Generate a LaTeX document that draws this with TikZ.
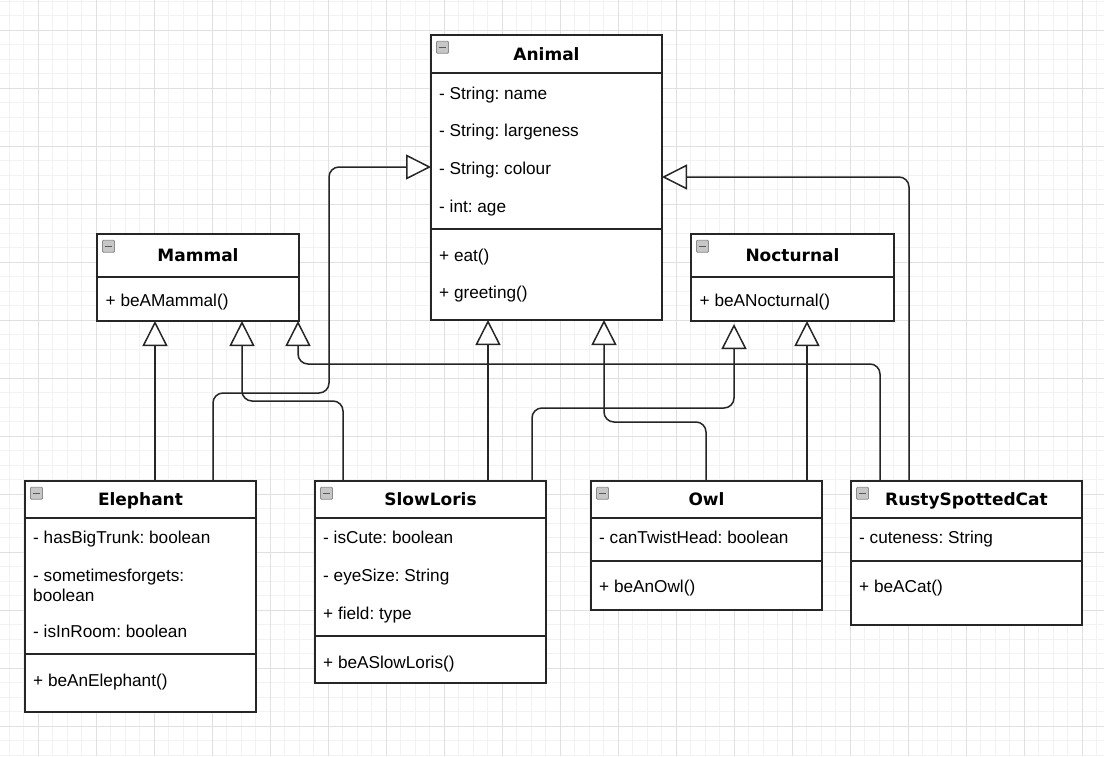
\documentclass[tikz,border=0pt]{standalone}
\usepackage{fontspec}
\setmainfont{Liberation Sans}
\newfontfamily\titlefont{DejaVu Sans}
\usetikzlibrary{arrows.meta,calc}
\frenchspacing

\tikzset{
  gridminor/.style={draw=black!5, line width=1pt},
  gridmajor/.style={draw=black!12, line width=1pt},
  classbox/.style={draw=black!85, fill=white, line width=1.5pt, anchor=north west,
    inner sep=0pt, outer sep=0pt, rectangle},
  boxline/.style={draw=black!85, line width=1.5pt},
  classtitle/.style={anchor=base, inner sep=0pt,
    font=\titlefont\bfseries\fontsize{17}{20}\selectfont},
  member/.style={anchor=base west, inner sep=0pt, font=\fontsize{17.2}{20}\selectfont},
  iconframe/.style={draw=black!45, fill=black!22, line width=0.8pt, rounded corners=1pt},
  iconbar/.style={draw=black!65, line width=1.6pt},
  inherit/.style={draw=black!85, line width=1.5pt, rounded corners=10pt,
    -{Triangle[length=25pt,width=25pt,fill=white]}},
}

% collapse box in the top left corner of a class
\newcommand{\umlicon}[1]{%
  \path (#1.north west) ++(5.5,6.3) coordinate (#1-icon);
  \draw[iconframe] (#1-icon) rectangle ++(12,12);
  \draw[iconbar] ($(#1-icon)+(2.2,6)$) -- ++(7.6,0);
}
% horizontal compartment divider of a class at height #2
\newcommand{\umlsep}[2]{%
  \draw[boxline] (#1.west |- 0,#2) -- (#1.east |- 0,#2);
}

\begin{document}
\begin{tikzpicture}[x=1pt,y=-1pt]
\useasboundingbox (0,0) rectangle (1104,756);
\fill[white] (0,0) rectangle (1104,756);

% background grid
\foreach \i in {0,...,75} \draw[gridminor] ({9.3+14.5*\i},0) -- ++(0,756);
\foreach \j in {0,...,52} \draw[gridminor] (0,{1+14.5*\j}) -- ++(1104,0);
\foreach \i in {0,...,18} \draw[gridmajor] ({38.3+58*\i},0) -- ++(0,756);
\foreach \j in {0,...,12} \draw[gridmajor] (0,{30+58*\j}) -- ++(1104,0);

% ---------- classes ----------
% Animal
\node[classbox, minimum width=231pt, minimum height=285pt] (animal) at (431,35) {};
\umlsep{animal}{73}
\umlsep{animal}{229}
\umlicon{animal}
\node[classtitle] (animal-t) at (546.5,60.2) {Animal};
\node[member] (animal-a1) at (439,99) {- String: name};
\node[member] (animal-a2) at (439,136.7) {- String: largeness};
\node[member] (animal-a3) at (439,174.4) {- String: colour};
\node[member] (animal-a4) at (439,212.1) {- int: age};
\node[member] (animal-m1) at (439,261) {+ eat()};
\node[member] (animal-m2) at (439,298.7) {+ greeting()};

% Mammal
\node[classbox, minimum width=202pt, minimum height=87pt] (mammal) at (97,234) {};
\umlsep{mammal}{277}
\umlicon{mammal}
\node[classtitle] (mammal-t) at (198,261.7) {Mammal};
\node[member] (mammal-m1) at (105.5,306) {+ beAMammal()};

% Nocturnal
\node[classbox, minimum width=203pt, minimum height=87pt] (noct) at (691,234) {};
\umlsep{noct}{277}
\umlicon{noct}
\node[classtitle] (noct-t) at (792.5,261.7) {Nocturnal};
\node[member] (noct-m1) at (699.5,306) {+ beANocturnal()};

% Elephant
\node[classbox, minimum width=231pt, minimum height=231pt] (eleph) at (25,481) {};
\umlsep{eleph}{518}
\umlsep{eleph}{654}
\umlicon{eleph}
\node[classtitle] (eleph-t) at (140.5,505.7) {Elephant};
\node[member] (eleph-a1) at (33,543.5) {- hasBigTrunk: boolean};
\node[member] (eleph-a2) at (33,581.5) {- sometimesforgets:};
\node[member] (eleph-a2b) at (33,601.5) {boolean};
\node[member] (eleph-a3) at (33,637) {- isInRoom: boolean};
\node[member] (eleph-m1) at (33,686) {+ beAnElephant()};

% SlowLoris
\node[classbox, minimum width=231pt, minimum height=202pt] (slow) at (315,481) {};
\umlsep{slow}{518}
\umlsep{slow}{636}
\umlicon{slow}
\node[classtitle] (slow-t) at (430.5,505.7) {SlowLoris};
\node[member] (slow-a1) at (323,543.5) {- isCute: boolean};
\node[member] (slow-a2) at (323,581.5) {- eyeSize: String};
\node[member] (slow-a3) at (323,619) {+ field: type};
\node[member] (slow-m1) at (323,668) {+ beASlowLoris()};

% Owl
\node[classbox, minimum width=231pt, minimum height=129pt] (owl) at (591,481) {};
\umlsep{owl}{518}
\umlsep{owl}{561}
\umlicon{owl}
\node[classtitle] (owl-t) at (706.5,505.7) {Owl};
\node[member] (owl-a1) at (599,543.5) {- canTwistHead: boolean};
\node[member] (owl-m1) at (599,592) {+ beAnOwl()};

% RustySpottedCat
\node[classbox, minimum width=231pt, minimum height=144pt] (cat) at (851,481) {};
\umlsep{cat}{518}
\umlsep{cat}{561}
\umlicon{cat}
\node[classtitle] (cat-t) at (966.5,505.7) {RustySpottedCat};
\node[member] (cat-a1) at (859,543.5) {- cuteness: String};
\node[member] (cat-m1) at (859,592) {+ beACat()};

% ---------- generalisations ----------
\draw[inherit] (eleph.north -| 155,0) -- (mammal.south -| 155,0);
\draw[inherit] (eleph.north -| 213,0) -- (213,393) -- (329,393) -- (329,167)
  -- (animal.west |- 0,167);
\draw[inherit] (slow.north -| 343,0) -- (343,401) -- (242,401) -- (mammal.south -| 242,0);
\draw[inherit] (slow.north -| 488,0) -- (animal.south -| 488,0);
\draw[inherit, shorten >=3pt] (slow.north -| 532,0) -- (532,408) -- (734,408)
  -- (noct.south -| 734,0);
\draw[inherit] (owl.north -| 706,0) -- (706,422) -- (604,422) -- (animal.south -| 604,0);
\draw[inherit] (owl.north -| 807,0) -- (noct.south -| 807,0);
\draw[inherit] (cat.north -| 880,0) -- (880,364) -- (298,364) -- (mammal.south -| 298,0);
\draw[inherit] (cat.north -| 909,0) -- (909,177) -- (animal.east |- 0,177);
\end{tikzpicture}
\end{document}
